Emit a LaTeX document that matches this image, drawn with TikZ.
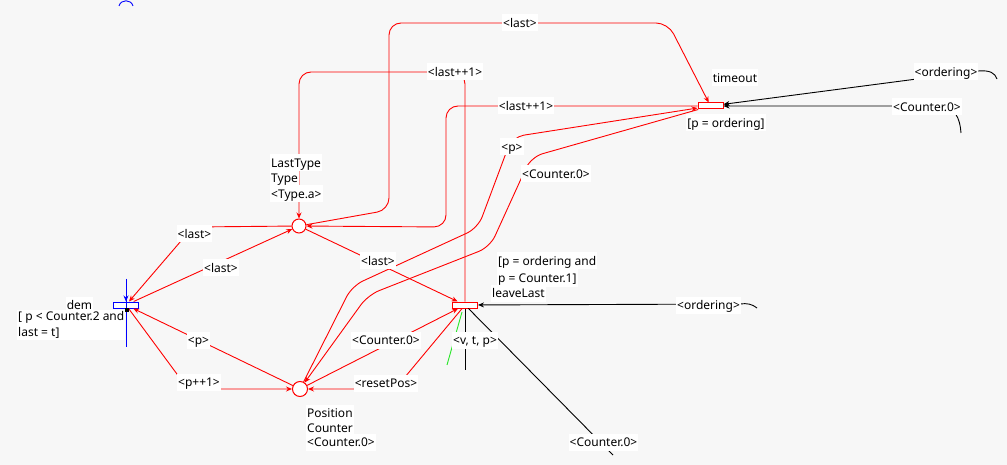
\documentclass[tikz,border=0pt]{standalone}
\usepackage{fontspec}
\setmainfont{Noto Sans}
\usetikzlibrary{arrows.meta}
\definecolor{bgc}{RGB}{247,247,247}
\definecolor{selgreen}{RGB}{40,230,40}
\begin{document}
\begin{tikzpicture}[x=1pt,y=-1pt,
  font=\fontsize{12}{15.5}\selectfont,
  redarc/.style={draw=red, line width=0.9pt, rounded corners=12pt},
  arrowend/.style={-{Stealth[length=6pt,width=5pt]}},
  blk/.style={draw=black, line width=0.9pt},
  placenode/.style={circle, draw=red, fill=white, line width=1pt, minimum size=14pt, inner sep=0pt},
  transnode/.style={rectangle, draw=red, fill=white, line width=1pt, minimum width=25pt, minimum height=6pt, inner sep=0pt},
  lbl/.style={fill=white, inner xsep=1pt, inner ysep=0.5pt, text height=12.5pt, text depth=3.5pt},
  lblm/.style={fill=white, inner xsep=1pt, inner ysep=2pt, align=left},
]
\useasboundingbox (0,0) rectangle (1007,465);
\fill[bgc] (0,0) rectangle (1007,465);

% places and transitions
\node[placenode] (LT) at (299,226) {};
\node[placenode, minimum size=15pt] (POS) at (300,389) {};
\node[transnode] (TO) at (710.5,106) {};
\node[transnode] (LL) at (465,305) {};
\node[transnode, draw=blue] (DEM) at (126,305) {};

% red arcs
\draw[redarc,arrowend] (LT) -- (389,210) -- (389,23) -- (668,23) -- (TO);
\draw[redarc,arrowend] (TO) -- (446,106) -- (446,227) -- (LT);
\draw[redarc,arrowend] (LL) -- (465,72) -- (299,72) -- (LT);
\draw[redarc,arrowend] (LT) -- (LL);
\draw[redarc,arrowend] (DEM) -- (LT);
\draw[redarc,arrowend] (LT) -- (193,227) -- (DEM);
\draw[redarc,arrowend] (POS) -- (DEM);
\draw[redarc,arrowend] (DEM) -- (188,389) -- (POS);
\draw[redarc,arrowend] (POS) -- (LL);
\draw[redarc,arrowend] (LL) -- (395,389) -- (POS);
\draw[redarc,arrowend] (POS) -- (352,286) -- (478,228) -- (512,137) -- (TO);
\draw[redarc,arrowend] (TO) -- (531,157) -- (490,247) -- (368,295) -- (POS);

% black arcs with free ends
\coordinate (e1) at (757,308);
\coordinate (e2) at (997,79);
\coordinate (e3) at (961,133);
\coordinate (e4) at (613,455);
\coordinate (e5) at (465,370);
\draw[blk,arrowend] (e1) .. controls (752,304) and (747,303) .. (740,304) -- (LL);
\draw[blk,arrowend] (e2) .. controls (995,73) and (990,70) .. (978,71) -- (TO);
\draw[blk,arrowend] (e3) .. controls (960,118) and (955,107) .. (940,106) -- (TO);
\draw[blk] (LL) -- (e4);
\draw[blk] (LL) -- (e5);

% green segment
\coordinate (g1) at (447,365);
\coordinate (g2) at (462,312);
\draw[selgreen, line width=0.9pt] (g1) -- (g2);

% blue marks at dem
\coordinate (b1) at (126,279);
\coordinate (b2) at (126,347);
\coordinate (b3) at (119,6);
\coordinate (b4) at (133,6);
\draw[blue, line width=0.9pt] (b1) -- (b2);
\draw[blue, line width=0.9pt, arrowend] (b1) -- (DEM);
\draw[blue, line width=0.9pt] (b3) .. controls (121,-1) and (131,-1) .. (b4);
\node[fill=black, minimum size=4pt, inner sep=0pt] (sq) at (127,310) {};

% arc labels
\node[lbl] (l1) at (520,23) {<last>};
\node[lbl] (l2) at (455,72) {<last++1>};
\node[lbl] (l3) at (526,106) {<last++1>};
\node[lbl] (l4) at (512,147) {<p>};
\node[lbl] (l5) at (556,174) {<Counter.0>};
\node[lbl] (l6) at (378,261) {<last>};
\node[lbl] (l7) at (194.5,234) {<last>};
\node[lbl] (l8) at (221,268) {<last>};
\node[lbl] (l9) at (198.5,340) {<p>};
\node[lbl] (l10) at (199,382) {<p++1>};
\node[lbl] (l11) at (386,340) {<Counter.0>};
\node[lbl] (l12) at (386,383) {<resetPos>};
\node[lbl] (l13) at (475,340) {<v, t, p>};
\node[lbl] (l14) at (708.5,305) {<ordering>};
\node[lbl] (l15) at (946,72) {<ordering>};
\node[lbl] (l16) at (927,107) {<Counter.0>};
\node[lbl] (l17) at (603.5,442) {<Counter.0>};

% node inscriptions
\node[lbl] (tn) at (735,78) {timeout};
\node[lbl] (tg) at (726,123) {[p = ordering]};
\node[lbl,anchor=west] (lg1) at (497,261) {[p = ordering and};
\node[lbl,anchor=west] (lg2) at (497,278) {p = Counter.1]};
\node[lbl,anchor=west] (ln) at (491,293) {leaveLast};
\node[lbl] (dn) at (79.5,305) {dem};
\node[lblm,anchor=west] (dg) at (17,325) {[ p < Counter.2 and\\last = t]};
\node[lbl,anchor=west] (lt1) at (270,163) {LastType};
\node[lbl,anchor=west] (lt2) at (270,178) {Type};
\node[lbl,anchor=west] (lt3) at (270,194) {<Type.a>};
\node[lbl,anchor=west] (p1) at (306,413) {Position};
\node[lbl,anchor=west] (p2) at (306,428) {Counter};
\node[lbl,anchor=west] (p3) at (306,442) {<Counter.0>};
\end{tikzpicture}
\end{document}
